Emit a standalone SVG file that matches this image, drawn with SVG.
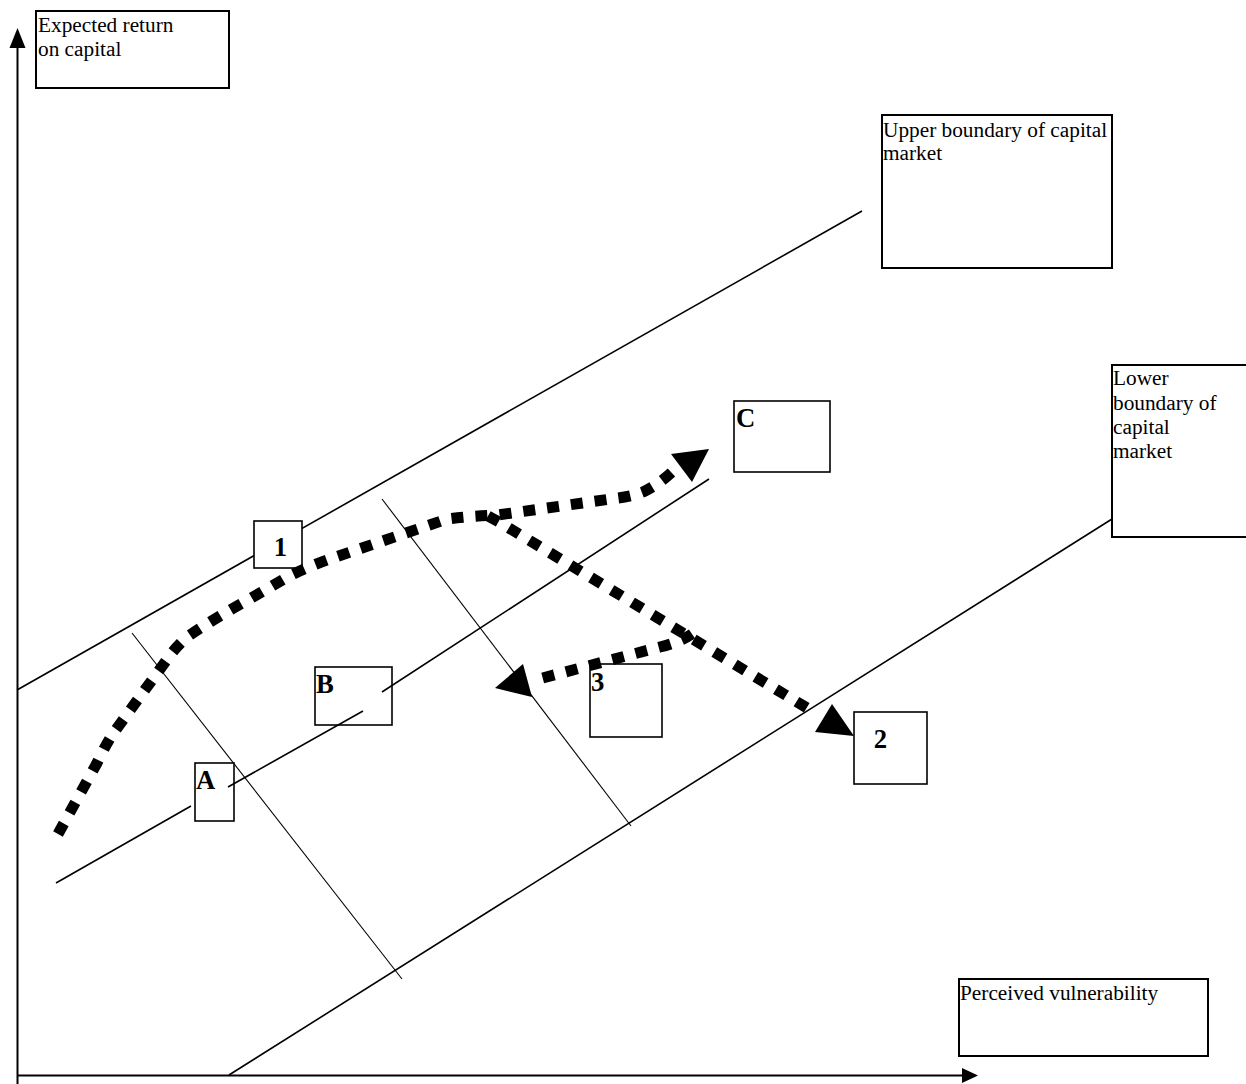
<svg xmlns="http://www.w3.org/2000/svg" width="1246" height="1084" viewBox="0 0 1246 1084">
<style>
.bg{fill:#fff}
.box{fill:#fff;stroke:#000;stroke-width:1.6}
.bigbox{fill:#fff;stroke:#000;stroke-width:2}
.lbl{font-family:"Liberation Serif","Times New Roman",serif;font-size:21.3px;fill:#000}
.tag{font-family:"Liberation Serif","Times New Roman",serif;font-size:26.7px;font-weight:bold;fill:#000}
.axis{stroke:#000;stroke-width:2;fill:none}
.bound{stroke:#000;stroke-width:1.6;fill:none}
.perp{stroke:#000;stroke-width:1.1;fill:none}
.path{stroke:#000;stroke-width:11;fill:none;stroke-dasharray:12 12;stroke-linejoin:round}
.head{fill:#000}
</style>
<rect class="bg" x="0" y="0" width="1246" height="1084"/>
<g id="connectors">
  <line class="axis" x1="17.5" y1="46" x2="17.5" y2="1084"/>
  <polygon class="head" points="17.5,28 9.5,48 25.5,48"/>
  <line class="axis" x1="17" y1="1075.5" x2="964" y2="1075.5"/>
  <polygon class="head" points="978,1075.5 962,1068 962,1083"/>
  <line class="bound" x1="17" y1="690" x2="862" y2="211"/>
  <line class="bound" x1="229" y1="1075" x2="1112" y2="519"/>
  <line class="perp" x1="132" y1="633" x2="402" y2="979"/>
  <line class="perp" x1="382" y1="499" x2="631" y2="826"/>
</g>
<g id="node-expected">
  <rect class="bigbox" x="36" y="11" width="193" height="77"/>
  <text class="lbl" x="38" y="32">Expected return</text>
  <text class="lbl" x="38" y="55.5">on capital</text>
</g>
<g id="node-upper">
  <rect class="bigbox" x="882" y="115" width="230" height="153"/>
  <text class="lbl" x="883" y="136.5">Upper boundary of capital</text>
  <text class="lbl" x="883" y="160">market</text>
</g>
<g id="node-lower">
  <rect class="bigbox" x="1112" y="365" width="150" height="172"/>
  <text class="lbl" x="1113" y="385">Lower</text>
  <text class="lbl" x="1113" y="409.5">boundary of</text>
  <text class="lbl" x="1113" y="433.5">capital</text>
  <text class="lbl" x="1113" y="458">market</text>
</g>
<g id="node-perceived">
  <rect class="bigbox" x="959" y="979" width="249" height="77"/>
  <text class="lbl" x="960" y="999.5">Perceived vulnerability</text>
</g>
<g id="node-C">
  <rect class="box" x="734" y="401" width="96" height="71"/>
  <text class="tag" x="736" y="427">C</text>
</g>
<g id="node-B">
  <rect class="box" x="315" y="667" width="77" height="58"/>
  <text class="tag" x="316" y="693">B</text>
</g>
<g id="node-A">
  <rect class="box" x="195" y="763" width="39" height="58"/>
  <text class="tag" x="196" y="789">A</text>
</g>
<g id="node-1">
  <rect class="box" x="254" y="521" width="48" height="47"/>
  <text class="tag" x="280.5" y="556" text-anchor="middle">1</text>
</g>
<g id="node-3">
  <rect class="box" x="590" y="664" width="72" height="73"/>
  <text class="tag" x="591" y="691">3</text>
</g>
<g id="node-2">
  <rect class="box" x="854" y="712" width="73" height="72"/>
  <text class="tag" x="880.5" y="748" text-anchor="middle">2</text>
</g>
<g id="connectors-over">
  <line class="bound" x1="56" y1="883" x2="191" y2="806"/>
  <line class="bound" x1="228" y1="787" x2="363" y2="711"/>
  <line class="bound" x1="382" y1="692" x2="709" y2="479"/>
  <path class="path" d="M58,834 L97,763 Q104,748 112,735 L171,654 Q178,645 187,637 Q215,618 248,600 L289,576 Q310,566 330,559 L447,519 Q470,516 498,515 L618,498 Q633,496 643,492 Q658,485 672,472"/>
  <polygon class="head" points="671,454 709,449 692,482"/>
  <path class="path" d="M488,516 L499,522 L812,711"/>
  <polygon class="head" points="832,704 815,732 854,736"/>
  <path class="path" d="M692,634 Q680,642 660,647 L535,680"/>
  <polygon class="head" points="523,664 495,688 532,697"/>
</g>
</svg>
